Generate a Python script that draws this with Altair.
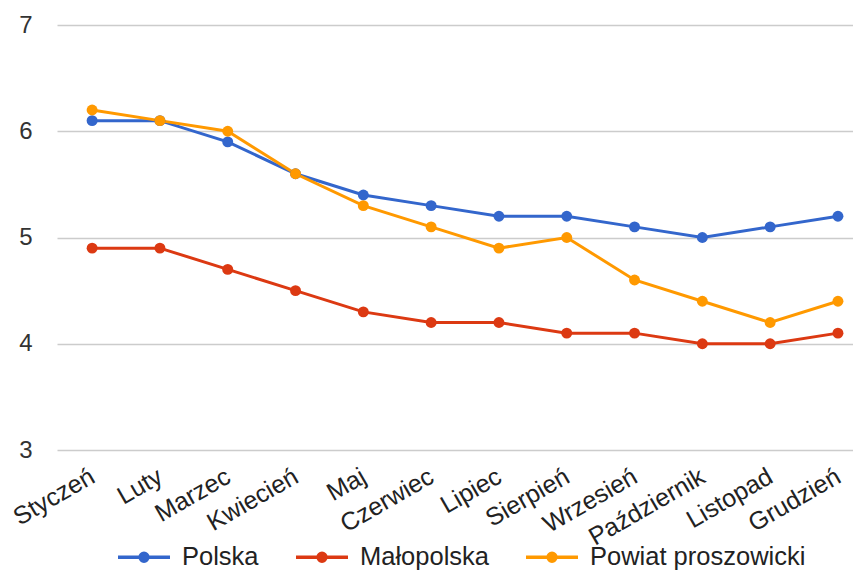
import altair as alt
import pandas as pd

months = ["Styczeń", "Luty", "Marzec", "Kwiecień", "Maj", "Czerwiec", "Lipiec",
          "Sierpień", "Wrzesień", "Październik", "Listopad", "Grudzień"]
polska = [6.1, 6.1, 5.9, 5.6, 5.4, 5.3, 5.2, 5.2, 5.1, 5.0, 5.1, 5.2]
malopolska = [4.9, 4.9, 4.7, 4.5, 4.3, 4.2, 4.2, 4.1, 4.1, 4.0, 4.0, 4.1]
powiat = [6.2, 6.1, 6.0, 5.6, 5.3, 5.1, 4.9, 5.0, 4.6, 4.4, 4.2, 4.4]
series = ["Polska", "Małopolska", "Powiat proszowicki"]
colors = ["#3366cc", "#dc3912", "#ff9900"]
y_ticks = [3, 4, 5, 6, 7]

rows = []
for name, vals in zip(series, [polska, malopolska, powiat]):
    for m, v in zip(months, vals):
        rows.append({"Miesiąc": m, "Seria": name, "Wartość": v})
df = pd.DataFrame(rows)

FONT = "Liberation Sans"

x = alt.X("Miesiąc:N", sort=months,
          scale=alt.Scale(type="point", padding=0.37, align=0.7),
          axis=alt.Axis(title=None, labelAngle=-30, labelAlign="right", labelBaseline="middle",
                        labelFontSize=25, labelColor="#222222", labelFont=FONT,
                        domain=False, ticks=False, grid=False, labelPadding=24,
                        labelOverlap=False, labelLimit=300))
y = alt.Y("Wartość:Q",
          scale=alt.Scale(domain=[3, 7], nice=False, zero=False),
          axis=alt.Axis(title=None, values=y_ticks, format="d", labelFontSize=24,
                        labelColor="#333333", labelFont=FONT, domain=False, ticks=False,
                        gridColor="#cccccc", gridWidth=1.5, labelPadding=25))
color = alt.Color("Seria:N", sort=series,
                  scale=alt.Scale(domain=series, range=colors),
                  legend=alt.Legend(title=None, orient="none", direction="horizontal",
                                    legendX=59, legendY=504, labelFontSize=25.5,
                                    labelFont=FONT, labelColor="#222222", labelLimit=400,
                                    symbolType="M-1,0H1M-0.15,0A0.15,0.15 0 1,1 0.15,0A0.15,0.15 0 1,1 -0.15,0Z",
                                    symbolSize=2700, symbolStrokeWidth=3.5,
                                    columnPadding=30, labelOffset=10, padding=0))

lines = alt.Chart(df).mark_line(strokeWidth=3).encode(x=x, y=y, color=color)
points = alt.Chart(df).mark_point(filled=True, size=120, opacity=1).encode(
    x=x, y=y, color=color)

chart = alt.layer(lines, points).properties(
    width=796, height=425,
    padding={"left": 49, "top": 17, "right": 0, "bottom": 120},
    autosize=alt.AutoSizeParams(type="none"),
).configure_view(stroke=None)

chart.save("out.html", embed_options={"renderer": "svg", "actions": False})
